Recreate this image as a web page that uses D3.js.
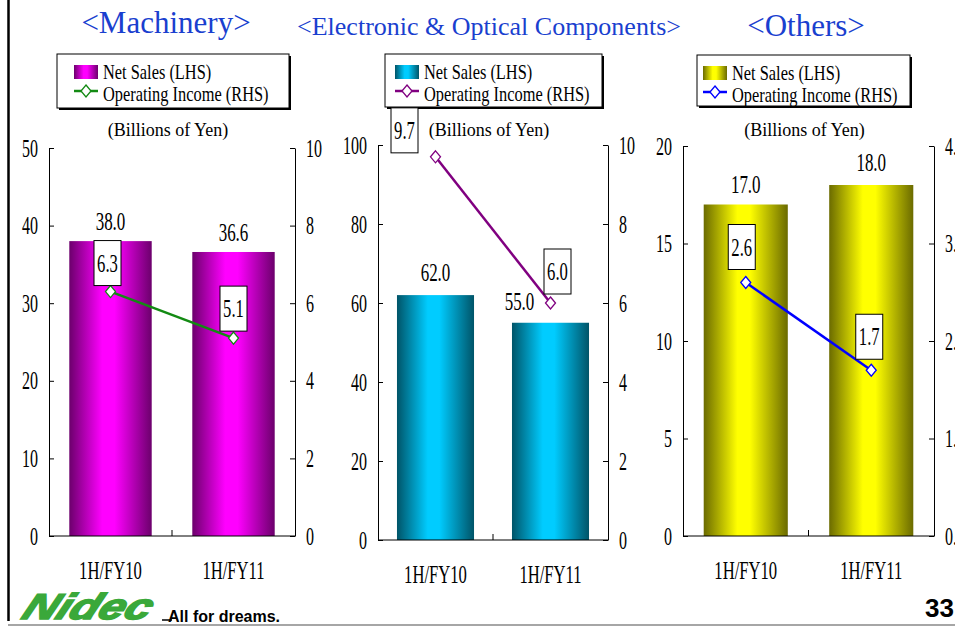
<!DOCTYPE html>
<html>
<head>
<meta charset="utf-8">
<script src="https://cdn.jsdelivr.net/npm/d3@7"></script>
<style>
  body { margin: 0; background: #fff; }
  svg { display: block; }
</style>
</head>
<body>
<svg id="chart" width="955" height="627"></svg>
<script>
// values
var categories = ["1H/FY10", "1H/FY11"];

var machinerySales = [38.0, 36.6];
var machineryIncome = [6.3, 5.1];
var electronicSales = [62.0, 55.0];
var electronicIncome = [9.7, 6.0];
var othersSales = [17.0, 18.0];
var othersIncome = [2.6, 1.7];

var machineryTicksL = [0, 10, 20, 30, 40, 50];
var machineryTicksR = [0, 2, 4, 6, 8, 10];
var electronicTicksL = [0, 20, 40, 60, 80, 100];
var electronicTicksR = [0, 2, 4, 6, 8, 10];
var othersTicksL = [0, 5, 10, 15, 20];
var othersTicksR = [0, 1, 2, 3, 4];

var titles = ["<Machinery>", "<Electronic & Optical Components>", "<Others>"];
var legendSales = "Net Sales (LHS)";
var legendIncome = "Operating Income (RHS)";
var unitLabel = "(Billions of Yen)";

var svg = d3.select("#chart");
var defs = svg.append("defs");
var serif = "'Liberation Serif', 'Times New Roman', serif";
var sans = "'Liberation Sans', Arial, sans-serif";

// panel layout (pixels)
var panels = [
    {
        title: titles[0], titleX: 166, titleY: 33, titleSize: 31,
        sales: machinerySales, income: machineryIncome,
        ticksL: machineryTicksL, ticksR: machineryTicksR,
        left: 49, right: 295, top: 148, bottom: 536,
        dark: "#6c006c", bright: "#ff00ff", line: "#138a13",
        legend: {x: 57, y: 54, w: 232, h: 54, sw: 74},
        salesDx: [0, 0], salesDy: [-11, -11],
        boxDx: [-3, 0], boxGap: [6, 7]
    },
    {
        title: titles[1], titleX: 489, titleY: 35, titleSize: 26,
        sales: electronicSales, income: electronicIncome,
        ticksL: electronicTicksL, ticksR: electronicTicksR,
        left: 378, right: 608, top: 145, bottom: 540,
        dark: "#005468", bright: "#00ccff", line: "#800080",
        legend: {x: 385, y: 54, w: 217, h: 53, sw: 395},
        salesDx: [0, -31], salesDy: [-14, -13],
        boxDx: [-31, 7], boxGap: [4, 9]
    },
    {
        title: titles[2], titleX: 806, titleY: 36, titleSize: 31,
        sales: othersSales, income: othersIncome,
        ticksL: othersTicksL, ticksR: othersTicksR,
        left: 683, right: 934, top: 146, bottom: 536,
        dark: "#6b6b00", bright: "#ffff00", line: "#0000ff",
        legend: {x: 697, y: 55, w: 213, h: 51, sw: 703},
        salesDx: [0, 0], salesDy: [-12, -14],
        boxDx: [-4, -2], boxGap: [13, 11]
    }
];

// condensed text helper (the slide text is squeezed horizontally)
function squeezedText(g, x, y, str, size, sx, anchor) {
    return g.append("text")
        .attr("transform", "translate(" + x + "," + y + ") scale(" + sx + ",1)")
        .attr("text-anchor", anchor || "middle")
        .style("font-family", serif)
        .style("font-size", size + "px")
        .attr("fill", "#000")
        .text(str);
}

function diamond(g, x, y, color) {
    g.append("path")
        .attr("d", "M" + x + "," + (y - 6) + "L" + (x + 5) + "," + y + "L" + x + "," + (y + 6) + "L" + (x - 5) + "," + y + "Z")
        .attr("fill", "#fff")
        .attr("stroke", color)
        .attr("stroke-width", 1.3);
}

panels.forEach(function (p, i) {
    var g = svg.append("g");

    // bar gradient
    var grad = defs.append("linearGradient")
        .attr("id", "grad" + i)
        .attr("x1", "0%").attr("x2", "100%").attr("y1", "0%").attr("y2", "0%");
    grad.append("stop").attr("offset", "0%").attr("stop-color", p.dark);
    grad.append("stop").attr("offset", "40%").attr("stop-color", p.bright);
    grad.append("stop").attr("offset", "55%").attr("stop-color", p.bright);
    grad.append("stop").attr("offset", "100%").attr("stop-color", p.dark);

    // title
    g.append("text")
        .attr("x", p.titleX).attr("y", p.titleY)
        .attr("text-anchor", "middle")
        .style("font-family", serif)
        .style("font-size", p.titleSize + "px")
        .attr("fill", "#1a3fcf")
        .text(p.title);

    // legend
    var lg = p.legend;
    g.append("rect")
        .attr("x", lg.x + 2).attr("y", lg.y + 2)
        .attr("width", lg.w).attr("height", lg.h)
        .attr("fill", "#000");
    g.append("rect")
        .attr("x", lg.x).attr("y", lg.y)
        .attr("width", lg.w).attr("height", lg.h)
        .attr("fill", "#fff").attr("stroke", "#000").attr("stroke-width", 1);
    g.append("rect")
        .attr("x", lg.sw).attr("y", lg.y + 11)
        .attr("width", 24).attr("height", 14)
        .attr("fill", "url(#grad" + i + ")");
    g.append("line")
        .attr("x1", lg.sw).attr("x2", lg.sw + 24)
        .attr("y1", lg.y + 37).attr("y2", lg.y + 37)
        .attr("stroke", p.line).attr("stroke-width", 2.5);
    diamond(g, lg.sw + 12, lg.y + 37, p.line);
    squeezedText(g, lg.sw + 29, lg.y + 25, legendSales, 21, 0.78, "start");
    squeezedText(g, lg.sw + 29, lg.y + 47, legendIncome, 21, 0.78, "start");

    // unit label
    g.append("text")
        .attr("x", (p.left + p.right) / 2 - 4).attr("y", 136)
        .attr("text-anchor", "middle")
        .style("font-family", serif)
        .style("font-size", "18px")
        .attr("fill", "#000")
        .text(unitLabel);

    // scales
    var x = d3.scaleBand().domain(categories)
        .range([p.left, p.right])
        .paddingInner(0.33).paddingOuter(0.165);
    var yL = d3.scaleLinear()
        .domain([p.ticksL[0], p.ticksL[p.ticksL.length - 1]])
        .range([p.bottom, p.top]);
    var yR = d3.scaleLinear()
        .domain([p.ticksR[0], p.ticksR[p.ticksR.length - 1]])
        .range([p.bottom, p.top]);

    // bars
    g.selectAll("rect.bar").data(p.sales).enter().append("rect")
        .attr("class", "bar")
        .attr("x", function (d, j) { return x(categories[j]); })
        .attr("y", function (d) { return yL(d); })
        .attr("width", x.bandwidth())
        .attr("height", function (d) { return p.bottom - yL(d); })
        .attr("fill", "url(#grad" + i + ")");

    // axes
    var axL = g.append("g")
        .attr("transform", "translate(" + p.left + ",0)")
        .call(d3.axisLeft(yL).tickValues(p.ticksL).tickSizeInner(-5).tickSizeOuter(0));
    var axR = g.append("g")
        .attr("transform", "translate(" + p.right + ",0)")
        .call(d3.axisRight(yR).tickValues(p.ticksR).tickSizeInner(-5).tickSizeOuter(0));
    [axL, axR].forEach(function (ax, k) {
        ax.select(".domain").attr("stroke", "#000");
        ax.selectAll(".tick line").attr("stroke", "#000");
        ax.selectAll(".tick text")
            .attr("x", null).attr("dy", null)
            .attr("text-anchor", k === 0 ? "end" : "start")
            .attr("transform", "translate(" + (k === 0 ? -11 : 11) + ",8) scale(0.64,1)")
            .style("font-family", serif)
            .style("font-size", "25px")
            .attr("fill", "#000");
    });

    // baseline with divider tick
    var mid = x(categories[1]) - x.step() * x.paddingInner() / 2;
    g.append("line")
        .attr("x1", p.left).attr("x2", p.right)
        .attr("y1", p.bottom).attr("y2", p.bottom)
        .attr("stroke", "#000");
    g.append("line")
        .attr("x1", mid).attr("x2", mid)
        .attr("y1", p.bottom).attr("y2", p.bottom - 6)
        .attr("stroke", "#000");

    // category labels
    categories.forEach(function (c) {
        squeezedText(g, x(c) + x.bandwidth() / 2, p.bottom + 43, c, 26, 0.64);
    });

    // bar value labels
    p.sales.forEach(function (v, j) {
        squeezedText(g, x(categories[j]) + x.bandwidth() / 2 + p.salesDx[j],
            yL(v) + p.salesDy[j], v.toFixed(1), 25, 0.68);
    });

    // operating income line
    var line = d3.line()
        .x(function (d, j) { return x(categories[j]) + x.bandwidth() / 2; })
        .y(function (d) { return yR(d); });
    g.append("path")
        .datum(p.income)
        .attr("d", line)
        .attr("fill", "none")
        .attr("stroke", p.line)
        .attr("stroke-width", 2.5);
    p.income.forEach(function (v, j) {
        var cx = x(categories[j]) + x.bandwidth() / 2;
        diamond(g, cx, yR(v), p.line);
        var bx = cx + p.boxDx[j] - 13.5;
        var by = yR(v) - p.boxGap[j] - 45;
        g.append("rect")
            .attr("x", bx).attr("y", by)
            .attr("width", 27).attr("height", 45)
            .attr("fill", "#fff").attr("stroke", "#000").attr("stroke-width", 1);
        squeezedText(g, bx + 13.5, by + 31, v.toFixed(1), 26, 0.64);
    });
});

// slide frame
svg.append("line")
    .attr("x1", 8.5).attr("x2", 8.5).attr("y1", 0).attr("y2", 621)
    .attr("stroke", "#000").attr("stroke-width", 2.5);
svg.append("line")
    .attr("x1", 8).attr("x2", 955).attr("y1", 625).attr("y2", 625)
    .attr("stroke", "#888").attr("stroke-width", 1.5);

// logo
svg.append("text")
    .attr("transform", "translate(20,619) scale(1.3,1) skewX(-18)")
    .style("font-family", sans)
    .style("font-size", "36px")
    .style("font-weight", "bold")
    .style("font-style", "italic")
    .attr("fill", "#3aa83a")
    .attr("stroke", "#3aa83a")
    .attr("stroke-width", 1.6)
    .text("Nidec");
svg.append("line")
    .attr("x1", 162).attr("x2", 172).attr("y1", 620).attr("y2", 620)
    .attr("stroke", "#000").attr("stroke-width", 1.5);
svg.append("text")
    .attr("x", 168).attr("y", 622)
    .style("font-family", sans)
    .style("font-size", "16px")
    .style("font-weight", "bold")
    .attr("fill", "#000")
    .text("All for dreams.");

// page number
svg.append("text")
    .attr("x", 954).attr("y", 617)
    .attr("text-anchor", "end")
    .style("font-family", sans)
    .style("font-size", "26px")
    .style("font-weight", "bold")
    .attr("fill", "#000")
    .text("33");
</script>
</body>
</html>
